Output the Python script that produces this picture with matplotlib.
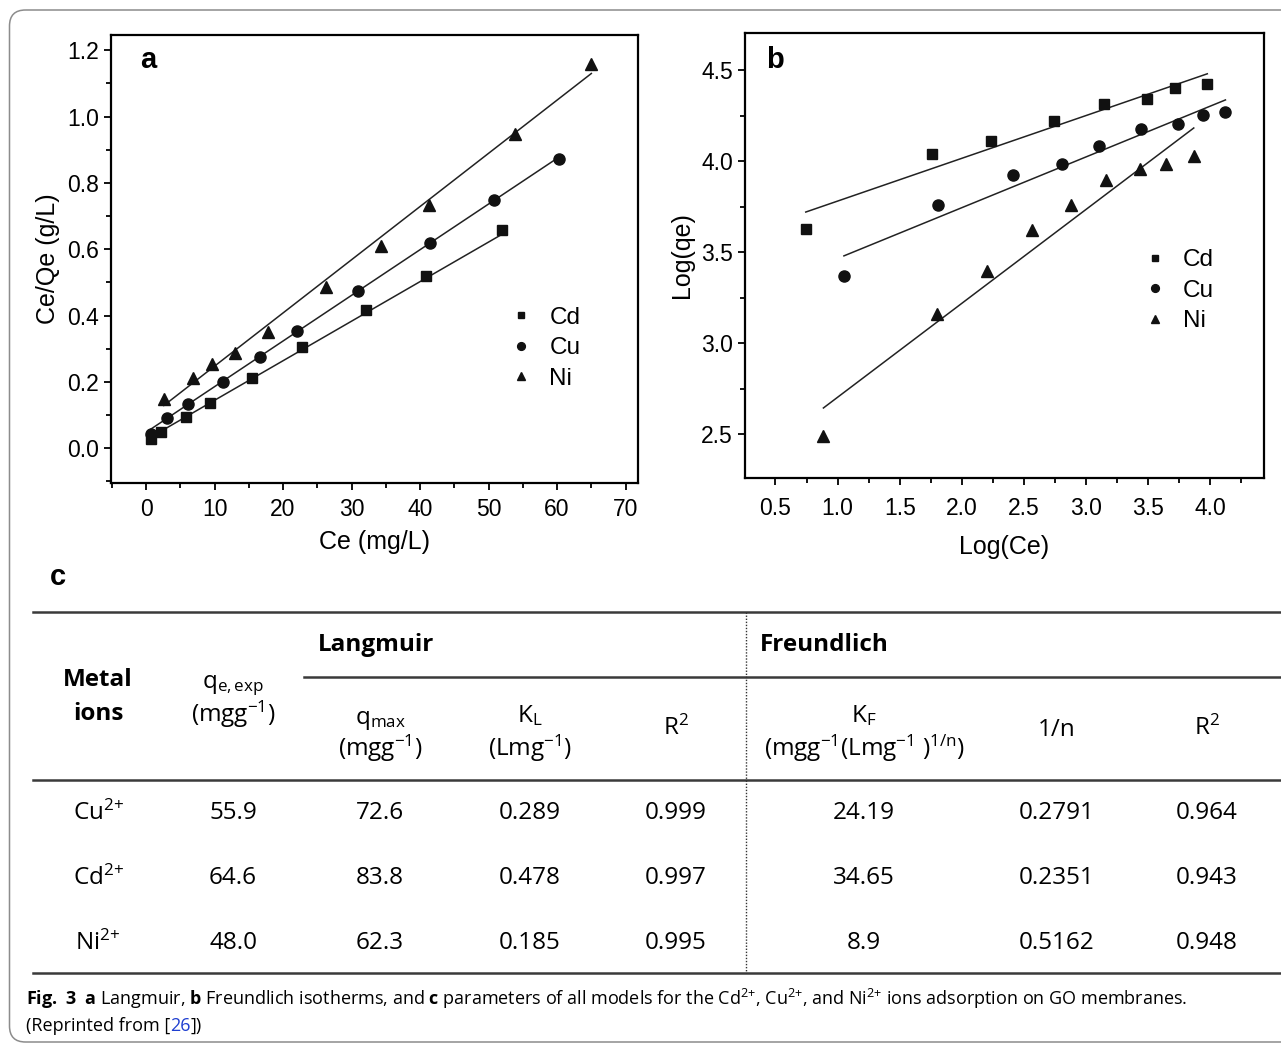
import numpy as np
import matplotlib

matplotlib.use("Agg")
import matplotlib.pyplot as plt
from matplotlib.patches import FancyBboxPatch
from matplotlib.ticker import MultipleLocator, FormatStrFormatter

plt.rcParams["font.family"] = ["Liberation Sans", "DejaVu Sans"]
plt.rcParams["mathtext.fontset"] = "custom"
plt.rcParams["mathtext.rm"] = "Open Sans"
plt.rcParams["mathtext.it"] = "Open Sans:italic"
plt.rcParams["mathtext.bf"] = "Open Sans:bold"

W, H = 1281, 1044

# ---- panel a: Langmuir (Ce vs Ce/qe) ----
ce_a = {
    "Cd": [0.8, 2.2, 5.8, 9.35, 15.5, 22.8, 32.1, 40.8, 52.0],
    "Cu": [0.67, 3.06, 6.2, 11.3, 16.6, 22.0, 30.9, 41.4, 50.8, 60.3],
    "Ni": [2.6, 6.9, 9.6, 13.0, 17.8, 26.3, 34.3, 41.3, 53.8, 65.0],
}
ceqe_a = {
    "Cd": [0.027, 0.048, 0.093, 0.137, 0.211, 0.304, 0.418, 0.519, 0.657],
    "Cu": [0.044, 0.090, 0.132, 0.200, 0.274, 0.353, 0.474, 0.618, 0.747, 0.873],
    "Ni": [0.148, 0.212, 0.253, 0.288, 0.351, 0.486, 0.611, 0.733, 0.949, 1.160],
}

# ---- panel b: Freundlich (log Ce vs log qe) ----
logce_b = {
    "Cd": [0.744, 1.761, 2.233, 2.745, 3.141, 3.488, 3.719, 3.976],
    "Cu": [1.051, 1.807, 2.415, 2.804, 3.108, 3.445, 3.739, 3.943, 4.122],
    "Ni": [0.886, 1.804, 2.200, 2.563, 2.877, 3.158, 3.438, 3.643, 3.867],
}
logqe_b = {
    "Cd": [3.628, 4.039, 4.109, 4.221, 4.314, 4.342, 4.400, 4.422],
    "Cu": [3.368, 3.761, 3.923, 3.983, 4.083, 4.175, 4.203, 4.256, 4.272],
    "Ni": [2.490, 3.159, 3.398, 3.624, 3.761, 3.899, 3.955, 3.983, 4.027],
}

legend_ions = ["Cd", "Cu", "Ni"]
marker_of = {"Cd": "s", "Cu": "o", "Ni": "^"}
size_of = {"Cd": 7, "Cu": 8, "Ni": 8.5}

# ---- panel c: model parameters ----
table_ions = ["Cu", "Cd", "Ni"]
qe_exp = ["55.9", "64.6", "48.0"]
q_max = ["72.6", "83.8", "62.3"]
k_l = ["0.289", "0.478", "0.185"]
r2_lang = ["0.999", "0.997", "0.995"]
k_f = ["24.19", "34.65", "8.9"]
inv_n = ["0.2791", "0.2351", "0.5162"]
r2_freu = ["0.964", "0.943", "0.948"]

params = {
    ion: dict(qmax=float(q_max[i]), kl=float(k_l[i]),
              kf=float(k_f[i]), n1=float(inv_n[i]))
    for i, ion in enumerate(table_ions)
}

fig = plt.figure(figsize=(W / 100, H / 100), dpi=100)

# background axes in pixel coordinates for the frame, table and caption
tax = fig.add_axes([0, 0, 1, 1], zorder=0)
tax.set_xlim(0, W)
tax.set_ylim(H, 0)
tax.axis("off")
tax.add_patch(FancyBboxPatch((9.5, 10), 1330, 1032,
                             boxstyle="round,pad=0,rounding_size=16",
                             fill=False, ec="#8c8c8c", lw=1.1))


def style_axes(ax):
    for sp in ax.spines.values():
        sp.set_linewidth(1.6)
    ax.tick_params(which="both", direction="out", top=False, right=False,
                   labelsize=16.5, width=1.3)
    ax.tick_params(which="major", length=5)
    ax.tick_params(which="minor", length=3.5)


leg_kw = dict(loc="center left", frameon=False, fontsize=17.5, markerscale=0.7,
              handlelength=0.9, handletextpad=0.7, labelspacing=0.35,
              borderpad=0, borderaxespad=0)

axa = fig.add_axes([0.0867, 0.5374, 0.4113, 0.4287], zorder=2)
for ion in legend_ions:
    x = np.array(ce_a[ion])
    p = params[ion]
    xs = np.array([x.min(), x.max()])
    axa.plot(xs, 1 / (p["qmax"] * p["kl"]) + xs / p["qmax"], color="#222", lw=1.1)
    axa.plot(x, ceqe_a[ion], ls="none", marker=marker_of[ion],
             ms=size_of[ion], color="#111", label=ion)
axa.set_xlim(-5.1, 71.8)
axa.set_ylim(-0.105, 1.245)
axa.xaxis.set_major_locator(MultipleLocator(10))
axa.xaxis.set_minor_locator(MultipleLocator(5))
axa.yaxis.set_major_locator(MultipleLocator(0.2))
axa.yaxis.set_minor_locator(MultipleLocator(0.1))
axa.yaxis.set_major_formatter(FormatStrFormatter("%.1f"))
style_axes(axa)
axa.tick_params(axis="x", pad=6)
axa.set_xlabel("Ce (mg/L)", fontsize=18, labelpad=6)
axa.set_ylabel("Ce/Qe (g/L)", fontsize=18, labelpad=5)
axa.text(0.055, 0.945, "a", transform=axa.transAxes, fontsize=21,
         fontweight="bold", va="center", ha="left")
axa.legend(bbox_to_anchor=(0.758, 0.3005), **leg_kw)

axb = fig.add_axes([0.5813, 0.5424, 0.4052, 0.4263], zorder=2)
for ion in legend_ions:
    x = np.array(logce_b[ion])
    p = params[ion]
    xs = np.array([x.min(), x.max()])
    axb.plot(xs, np.log(p["kf"]) + p["n1"] * xs, color="#222", lw=1.1)
    axb.plot(x, logqe_b[ion], ls="none", marker=marker_of[ion],
             ms=size_of[ion], color="#111", label=ion)
axb.set_xlim(0.252, 4.43)
axb.set_ylim(2.26, 4.706)
axb.xaxis.set_major_locator(MultipleLocator(0.5))
axb.xaxis.set_minor_locator(MultipleLocator(0.25))
axb.yaxis.set_major_locator(MultipleLocator(0.5))
axb.yaxis.set_minor_locator(MultipleLocator(0.25))
axb.xaxis.set_major_formatter(FormatStrFormatter("%.1f"))
axb.yaxis.set_major_formatter(FormatStrFormatter("%.1f"))
style_axes(axb)
axb.tick_params(axis="x", pad=9)
axb.set_xlabel("Log(Ce)", fontsize=18, labelpad=11)
axb.set_ylabel("Log(qe)", fontsize=18, labelpad=5)
axb.text(0.041, 0.939, "b", transform=axb.transAxes, fontsize=21,
         fontweight="bold", va="center", ha="left")
axb.legend(bbox_to_anchor=(0.769, 0.4204), **leg_kw)

# ---- table c ----
tfont = ["Open Sans", "DejaVu Sans"]
ts = 17.5
tax.text(58, 577, "c", fontsize=21, fontweight="bold", ha="center", va="center")
rule = dict(color="#3a3a3a", lw=1.8)
tax.plot([33, W], [611.5, 611.5], **rule)
tax.plot([304, W], [677, 677], **rule)
tax.plot([33, W], [780, 780], **rule)
tax.plot([33, W], [973, 973], **rule)
tax.plot([746, 746], [611.5, 973], color="#333", lw=1.0, ls=(0, (1, 1.2)))


def cell(x, y, s, bold=False, ha="center"):
    tax.text(x, y, s, fontsize=ts, family=tfont, ha=ha, va="center",
             fontweight="bold" if bold else "normal")


cell(318, 645, "Langmuir", bold=True, ha="left")
cell(760, 645, "Freundlich", bold=True, ha="left")
cell(98, 680, "Metal", bold=True)
cell(98, 714, "ions", bold=True)
cell(233, 686, r"q$_{\mathrm{e,exp}}$")
cell(233, 714, r"(mgg$^{-1}$)")
cell(380, 720, r"q$_{\mathrm{max}}$")
cell(380, 748, r"(mgg$^{-1}$)")
cell(530, 716, r"K$_{\mathrm{L}}$")
cell(530, 748, r"(Lmg$^{-1}$)")
cell(676, 728, r"R$^{2}$")
cell(864, 716, r"K$_{\mathrm{F}}$")
cell(864, 748, r"(mgg$^{-1}$(Lmg$^{-1}$ )$^{\mathrm{1/n}}$)")
cell(1057, 730, "1/n")
cell(1207, 728, r"R$^{2}$")

cols_x = [233, 380, 530, 676, 864, 1057, 1207]
row_y = [813, 878, 943]
columns = [qe_exp, q_max, k_l, r2_lang, k_f, inv_n, r2_freu]
for i, ion in enumerate(table_ions):
    cell(98, row_y[i], ion + r"$^{2{+}}$")
    for cx, col in zip(cols_x, columns):
        cell(cx, row_y[i], col[i])

# ---- caption ----
cs = 13
tax.text(26, 999, r"$\mathbf{Fig.\ 3}$  $\mathbf{a}$ Langmuir, $\mathbf{b}$ "
         r"Freundlich isotherms, and $\mathbf{c}$ parameters of all models for the "
         r"Cd$^{2{+}}$, Cu$^{2{+}}$, and Ni$^{2{+}}$ ions "
         r"adsorption on GO membranes.",
         fontsize=cs, family=tfont, ha="left", va="center")
t1 = tax.text(26, 1026, "(Reprinted from [", fontsize=cs, family=tfont,
              ha="left", va="center")
t2 = tax.annotate("26", xy=(1, 0), xycoords=t1, fontsize=cs, family=tfont,
                  ha="left", va="bottom", color="#1f3fd0")
tax.annotate("])", xy=(1, 0), xycoords=t2, fontsize=cs, family=tfont,
             ha="left", va="bottom")

fig.savefig("out.png", dpi=100)
